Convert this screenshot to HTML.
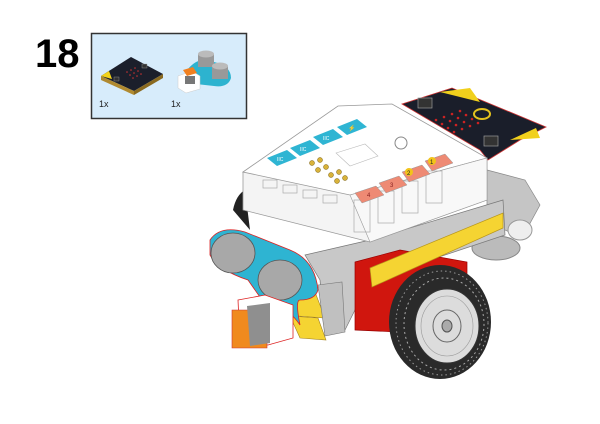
<!DOCTYPE html>
<html><head><meta charset="utf-8"><style>
html,body{margin:0;padding:0;background:#fff;width:600px;height:424px;overflow:hidden}
text{font-family:"Liberation Sans",sans-serif}
</style></head><body>
<svg width="600" height="424" viewBox="0 0 600 424" xmlns="http://www.w3.org/2000/svg">
<text x="35" y="67" font-size="40" font-weight="bold" fill="#000">18</text>
<rect x="91.5" y="33.5" width="155" height="85" fill="#d7ecfb" stroke="#333" stroke-width="1.5"/>
<!-- parts: microbit -->
<polygon points="101,76 131,57 163,74 134,91" fill="#1b1f2b"/>
<polygon points="101,76 134,91 134,95 101,80" fill="#b08a30"/>
<polygon points="134,91 163,74 163,78 134,95" fill="#8a6a20"/>
<polygon points="101,76 109,71 112,79" fill="#f3d31a"/>
<rect x="114" y="77" width="5" height="4" fill="#333" stroke="#999" stroke-width="0.4"/>
<rect x="142" y="64" width="5" height="4" fill="#333" stroke="#999" stroke-width="0.4"/>
<g fill="#c33"><circle cx="127" cy="72" r="0.8"/><circle cx="131" cy="70" r="0.8"/><circle cx="135" cy="68" r="0.8"/><circle cx="130" cy="75" r="0.8"/><circle cx="134" cy="73" r="0.8"/><circle cx="138" cy="71" r="0.8"/><circle cx="133" cy="78" r="0.8"/><circle cx="137" cy="76" r="0.8"/><circle cx="141" cy="74" r="0.8"/></g>
<!-- parts: ultrasonic -->
<path d="M188,69 Q200,55 214,62 Q231,66 231,78 Q228,88 214,86 L196,84 Z" fill="#2db3cf"/>
<rect x="198" y="54" width="16" height="13" fill="#999"/><ellipse cx="206" cy="54" rx="8" ry="3.5" fill="#bbb"/>
<rect x="212" y="66" width="16" height="13" fill="#999"/><ellipse cx="220" cy="66" rx="8" ry="3.5" fill="#bbb"/>
<polygon points="178,76 192,71 200,76 200,89 186,93 178,88" fill="#fff" stroke="#ccc" stroke-width="0.5"/>
<polygon points="183,70 193,67 197,73 187,76" fill="#f08020"/>
<rect x="185" y="76" width="10" height="8" fill="#777"/>
<text x="99" y="107" font-size="9" fill="#222">1x</text>
<text x="171" y="107" font-size="9" fill="#222">1x</text>

<!-- back grey wheel/frame -->
<ellipse cx="496" cy="248" rx="24" ry="12" fill="#bbb" stroke="#888"/>
<polygon points="487,170 525,180 540,205 522,238 505,230 487,210" fill="#c5c5c5" stroke="#888" stroke-width="0.7"/>
<ellipse cx="520" cy="230" rx="12" ry="10" fill="#eee" stroke="#999"/>
<path d="M233,210 Q236,195 245,190 L250,230 Z" fill="#222"/>
<!-- microbit board -->
<polygon points="402,104 452,88 546,127 520,140 488,160 480,150" fill="#1a1e2a" stroke="#c33" stroke-width="0.8"/>
<polygon points="440,92 470,88 480,102" fill="#f1d01c"/>
<polygon points="510,140 536,128 540,138" fill="#f1d01c"/>
<rect x="418" y="98" width="14" height="10" fill="#333" stroke="#999" stroke-width="0.7"/>
<rect x="484" y="136" width="14" height="10" fill="#333" stroke="#999" stroke-width="0.7"/>
<ellipse cx="482" cy="114" rx="8" ry="5" fill="none" stroke="#e5c21e" stroke-width="2"/>
<g fill="#c22">
<circle cx="436" cy="120" r="1.3"/><circle cx="444" cy="117" r="1.3"/><circle cx="452" cy="114" r="1.3"/><circle cx="460" cy="111" r="1.3"/>
<circle cx="442" cy="124" r="1.3"/><circle cx="450" cy="121" r="1.3"/><circle cx="458" cy="118" r="1.3"/><circle cx="466" cy="115" r="1.3"/>
<circle cx="448" cy="128" r="1.3"/><circle cx="456" cy="125" r="1.3"/><circle cx="464" cy="122" r="1.3"/><circle cx="472" cy="119" r="1.3"/>
<circle cx="454" cy="132" r="1.3"/><circle cx="462" cy="129" r="1.3"/><circle cx="470" cy="126" r="1.3"/><circle cx="478" cy="123" r="1.3"/>
</g>
<!-- grey lower frame -->
<polygon points="305,255 370,240 503,200 505,235 370,280 345,330 325,335 320,280" fill="#c8c8c8" stroke="#777" stroke-width="0.7"/>
<!-- red block -->
<polygon points="355,262 400,250 467,262 467,318 420,333 355,330" fill="#d0160e" stroke="#900" stroke-width="0.7"/>
<!-- yellow beam -->
<polygon points="370,268 503,213 503,228 372,287" fill="#f5d432" stroke="#b8961a" stroke-width="0.7"/>
<!-- white controller -->
<polygon points="243,172 243,210 370,242 487,200 487,158" fill="#f4f4f4" stroke="#999" stroke-width="0.8"/>
<polygon points="243,172 338,106 392,104 487,158 350,195" fill="#fff" stroke="#999" stroke-width="0.8"/>
<polygon points="350,195 487,158 487,200 370,242" fill="#f8f8f8" stroke="#999" stroke-width="0.6"/>
<g stroke="#aaa" fill="none" stroke-width="0.7">
<rect x="354" y="200" width="16" height="32"/><rect x="378" y="191" width="16" height="32"/><rect x="402" y="181" width="16" height="32"/><rect x="426" y="171" width="16" height="32"/>
<rect x="263" y="180" width="14" height="8"/><rect x="283" y="185" width="14" height="8"/><rect x="303" y="190" width="14" height="8"/><rect x="323" y="195" width="14" height="8"/>
</g>
<!-- port labels -->
<polygon points="355,193 376,186 384,195 362,203" fill="#ee8a74" stroke="#999" stroke-width="0.5"/>
<polygon points="379,183 399,176 407,185 386,193" fill="#ee8a74" stroke="#999" stroke-width="0.5"/>
<polygon points="402,172 422,165 430,174 409,182" fill="#ee8a74" stroke="#999" stroke-width="0.5"/>
<polygon points="425,161 445,154 453,163 432,171" fill="#ee8a74" stroke="#999" stroke-width="0.5"/>
<circle cx="409" cy="172" r="4" fill="#f2c41a"/><circle cx="432" cy="161" r="4" fill="#f2c41a"/>
<text x="367" y="197" font-size="6" fill="#822">4</text><text x="390" y="187" font-size="6" fill="#822">3</text><text x="407" y="175" font-size="6" fill="#222">2</text><text x="430" y="164" font-size="6" fill="#222">1</text>
<!-- IIC labels -->
<polygon points="267,158 287,150 297,158 277,166" fill="#2fb5d3"/>
<polygon points="290,148 310,140 320,148 300,156" fill="#2fb5d3"/>
<polygon points="313,137 333,129 343,137 323,145" fill="#2fb5d3"/>
<polygon points="337,127 357,119 367,127 347,135" fill="#2fb5d3"/>
<text x="277" y="161" font-size="5" fill="#fff">IIC</text><text x="300" y="151" font-size="5" fill="#fff">IIC</text><text x="323" y="140" font-size="5" fill="#fff">IIC</text><text x="348" y="130" font-size="6" fill="#fff">⚡</text>
<circle cx="401" cy="143" r="6" fill="#fff" stroke="#888"/>
<g fill="#d8b23a" stroke="#7a6010" stroke-width="0.5">
<circle cx="312" cy="163" r="2.5"/><circle cx="320" cy="160" r="2.5"/><circle cx="318" cy="170" r="2.5"/><circle cx="326" cy="167" r="2.5"/><circle cx="331" cy="175" r="2.5"/><circle cx="339" cy="172" r="2.5"/><circle cx="337" cy="181" r="2.5"/><circle cx="345" cy="178" r="2.5"/>
</g>
<g stroke="#bbb" fill="none" stroke-width="0.6"><polygon points="336,153 365,144 378,156 350,166"/></g>
<!-- yellow small beams front -->
<polygon points="290,290 315,292 325,318 298,316" fill="#f5d432" stroke="#a08020" stroke-width="0.6"/>
<polygon points="290,316 318,318 326,340 300,338" fill="#f5d432" stroke="#a08020" stroke-width="0.6"/>
<polygon points="318,285 342,282 345,332 325,336" fill="#c0c0c0" stroke="#777" stroke-width="0.6"/>
<!-- ultrasonic -->
<path d="M210,240 Q220,225 245,232 L290,250 Q315,260 318,290 Q315,300 300,300 Q295,300 300,325 Q290,310 275,305 L262,300 L248,280 Q218,270 210,255 Z" fill="#2eb4d2" stroke="#d22" stroke-width="0.8"/>
<ellipse cx="233" cy="253" rx="22" ry="20" fill="#a8a8a8" stroke="#555" stroke-width="0.8"/>
<ellipse cx="280" cy="280" rx="22" ry="20" fill="#a8a8a8" stroke="#555" stroke-width="0.8"/>
<!-- sensor module -->
<polygon points="238,300 265,295 293,305 293,338 268,345 240,343" fill="#fff" stroke="#d22" stroke-width="0.8"/>
<polygon points="232,310 267,310 267,348 232,348" fill="#f08a1e" stroke="#c33" stroke-width="0.6"/>
<polygon points="247,306 270,303 270,343 250,346" fill="#8f8f8f"/>
<!-- wheel -->
<ellipse cx="440" cy="322" rx="51" ry="57" fill="#2a2a2a"/>
<ellipse cx="442" cy="323" rx="46" ry="52" fill="none" stroke="#999" stroke-width="1" stroke-dasharray="1.5 3"/>
<ellipse cx="444" cy="324" rx="40" ry="46" fill="none" stroke="#aaa" stroke-width="1" stroke-dasharray="2 3"/>
<ellipse cx="447" cy="326" rx="32" ry="37" fill="#dcdcdc" stroke="#333"/>
<ellipse cx="447" cy="326" rx="26" ry="30" fill="none" stroke="#999" stroke-width="0.6"/>
<ellipse cx="447" cy="326" rx="14" ry="16" fill="none" stroke="#666"/>
<ellipse cx="447" cy="326" rx="5" ry="6" fill="#aaa" stroke="#555"/>
</svg>
</body></html>
